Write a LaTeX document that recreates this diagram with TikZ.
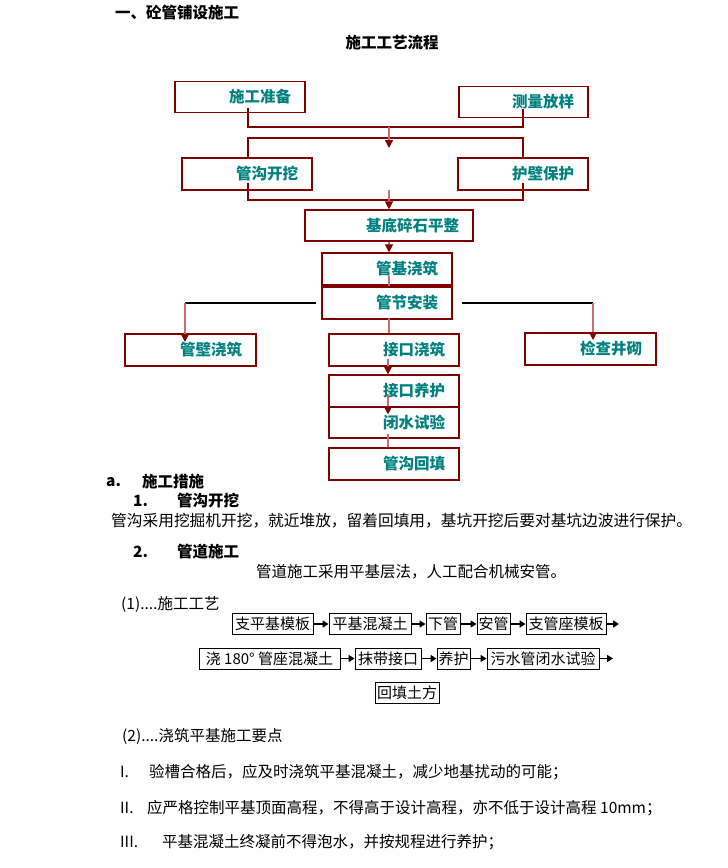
\documentclass[tikz,border=0pt]{standalone}
\usepackage{fontspec}
\setmainfont{Noto Sans CJK SC}
\usetikzlibrary{arrows.meta,calc}
\definecolor{dred}{RGB}{128,0,0}
\definecolor{pinkln}{RGB}{196,110,110}
\definecolor{tealtx}{RGB}{0,128,128}
\begin{document}
\begin{tikzpicture}[x=1pt,y=-1pt,
  fbox/.style={draw=dred, line width=1.2pt, inner xsep=14pt, inner ysep=0pt, minimum height=31pt, align=right, text=tealtx, font=\fontsize{15.5}{17}\selectfont\bfseries},
  hline/.style={draw=dred, line width=1.2pt},
  vline/.style={draw=pinkln, line width=1.4pt},
  varrow/.style={draw=pinkln, line width=1.4pt, -{Triangle[length=8pt,width=8pt,color=dred]}},
  bline/.style={draw=black, line width=1.2pt},
  tx/.style={inner sep=0pt, anchor=west, font=\fontsize{15.5}{17}\selectfont},
  txb/.style={tx, font=\fontsize{15.5}{17}\selectfont\bfseries},
  lbox/.style={draw=black, line width=0.9pt, inner xsep=1pt, inner ysep=0pt, minimum height=21pt, font=\fontsize{15}{17}\selectfont},
  farrow/.style={draw=black, line width=1.8pt, -{Triangle[length=6pt,width=7pt]}}
]
\useasboundingbox (0,0) rectangle (728,868);

% titles
\node[txb] (t1) at (115,13) {一、砼管铺设施工};
\node[txb, anchor=center] (t2) at (392,43) {施工工艺流程};

% flow boxes
\node[fbox, text width=102pt] (sgzb) at (240,97) {施工准备};
\node[fbox, text width=101pt] (clfy) at (523.5,102) {测量放样};
\node[fbox, text width=102pt, minimum height=32pt] (ggkw) at (247,174) {管沟开挖};
\node[fbox, text width=102pt, minimum height=32pt] (hbbh) at (523,174) {护壁保护};
\node[fbox, text width=140pt] (jdsp) at (389,225.5) {基底碎石平整};
\node[fbox, text width=102pt, minimum height=32pt] (gjjz) at (387,269) {管基浇筑};
\node[fbox, text width=102pt, minimum height=32pt] (gjaz) at (387,303) {管节安装};
\node[fbox, text width=103pt, minimum height=32pt] (gbjz) at (190.5,350) {管壁浇筑};
\node[fbox, text width=102pt, minimum height=32pt] (jkjz) at (394,350) {接口浇筑};
\node[fbox, text width=103pt, minimum height=32pt] (jcjq) at (590.5,349) {检查井砌};
\node[fbox, text width=102pt, minimum height=32pt] (jkyh) at (394,391) {接口养护};
\node[fbox, text width=102pt, minimum height=31pt] (bssy) at (394,422.5) {闭水试验};
\node[fbox, text width=102pt, minimum height=32pt] (gght) at (394,464) {管沟回填};

% connectors
\coordinate (j1) at (389,127);
\coordinate (j1t) at (389,148);
\draw[hline] ([xshift=8pt,yshift=5pt]sgzb.south) |- (j1) -| ([xshift=-0.5pt,yshift=9pt]clfy.south);
\coordinate (j2) at (389,138);
\draw[hline] ([xshift=1pt]ggkw.north) |- (j2) -| (hbbh.north);
\draw[varrow] (j1) -- (j1t);
\coordinate (j3) at (389,200);
\coordinate (j3s) at (389,190);
\draw[hline] ([xshift=1pt,yshift=8pt]ggkw.south) |- (j3) -| ([yshift=8pt]hbbh.south);
\draw[varrow] (j3s) -- (jdsp.north);
\draw[varrow] (jdsp.south) -- (jdsp.south |- gjjz.north);
\draw[vline] ([xshift=2pt,yshift=10pt]gjjz.south) -- ([xshift=2pt]gjaz.north);
\coordinate (lf) at (185,303);
\coordinate (rt) at (593,303);
\coordinate (lfe) at (185,342);
\coordinate (rte) at (593,340);
\draw[bline] ([xshift=-5pt]gjaz.west) -- (lf);
\draw[bline] ([xshift=9pt]gjaz.east) -- (rt);
\draw[varrow] (lf) -- (lfe);
\draw[varrow] (rt) -- (rte);
\draw[vline] ([xshift=2pt,yshift=2pt]gjaz.south) -- ([xshift=-5pt]jkjz.north);
\draw[varrow] ([xshift=-6pt,yshift=8pt]jkjz.south) -- ([xshift=-6pt]jkyh.north);
\draw[varrow] ([xshift=-6pt,yshift=14pt]jkyh.south) -- ([xshift=-6pt,yshift=-8pt]bssy.north);
\draw[vline] ([xshift=-6pt,yshift=5pt]bssy.south) -- ([xshift=-6pt]gght.north);

% text section
\node[txb] (a) at (106,482) {a.};
\node[txb] (a1) at (142,482) {施工措施};
\node[txb] (n1) at (133,501) {1.};
\node[txb] (n1t) at (177,501) {管沟开挖};
\node[tx, font=\fontsize{15.7}{17}\selectfont] (p1) at (111,521) {管沟采用挖掘机开挖，就近堆放，留着回填用，基坑开挖后要对基坑边波进行保护。};
\node[txb] (n2) at (133,552) {2.};
\node[txb] (n2t) at (177,552) {管道施工};
\node[tx] (p2) at (256,572) {管道施工采用平基层法，人工配合机械安管。};
\node[tx] (s1) at (121,604) {(1)....施工工艺};

% process boxes
\node[lbox, minimum width=81pt] (b1) at (272.5,624) {支平基模板};
\node[lbox, minimum width=82pt] (b2) at (370,624) {平基混凝土};
\node[lbox, minimum width=34pt] (b3) at (443,624) {下管};
\node[lbox, minimum width=33pt] (b4) at (493.5,624) {安管};
\node[lbox, minimum width=80pt] (b5) at (566,624) {支管座模板};
\coordinate (e1) at (619,624);
\draw[farrow] (b1) -- (b2);
\draw[farrow] (b2) -- (b3);
\draw[farrow] (b3) -- (b4);
\draw[farrow] (b4) -- (b5);
\draw[farrow] (b5) -- (e1);

\node[lbox, minimum width=141pt] (c1) at (269.5,658.5) {浇 180° 管座混凝土};
\node[lbox, minimum width=66pt] (c2) at (388,658.5) {抹带接口};
\node[lbox, minimum width=33pt] (c3) at (453.5,658.5) {养护};
\node[lbox, minimum width=112pt] (c4) at (543,658.5) {污水管闭水试验};
\coordinate (e2) at (613,658.5);
\draw[farrow] (c1) -- (c2);
\draw[farrow] (c2) -- (c3);
\draw[farrow] (c3) -- (c4);
\draw[farrow] (c4) -- (e2);

\node[lbox, minimum width=64pt] (d1) at (407,692.5) {回填土方};

\node[tx] (s2) at (122,736) {(2)....浇筑平基施工要点};
\node[tx] (r1) at (120,772) {I.};
\node[tx] (r1t) at (149,772) {验槽合格后，应及时浇筑平基混凝土，减少地基扰动的可能；};
\node[tx] (r2) at (120,808) {II.};
\node[tx] (r2t) at (147,808) {应严格控制平基顶面高程，不得高于设计高程，亦不低于设计高程 10mm；};
\node[tx] (r3) at (120,842) {III.};
\node[tx] (r3t) at (162,842) {平基混凝土终凝前不得泡水，并按规程进行养护；};
\end{tikzpicture}
\end{document}
